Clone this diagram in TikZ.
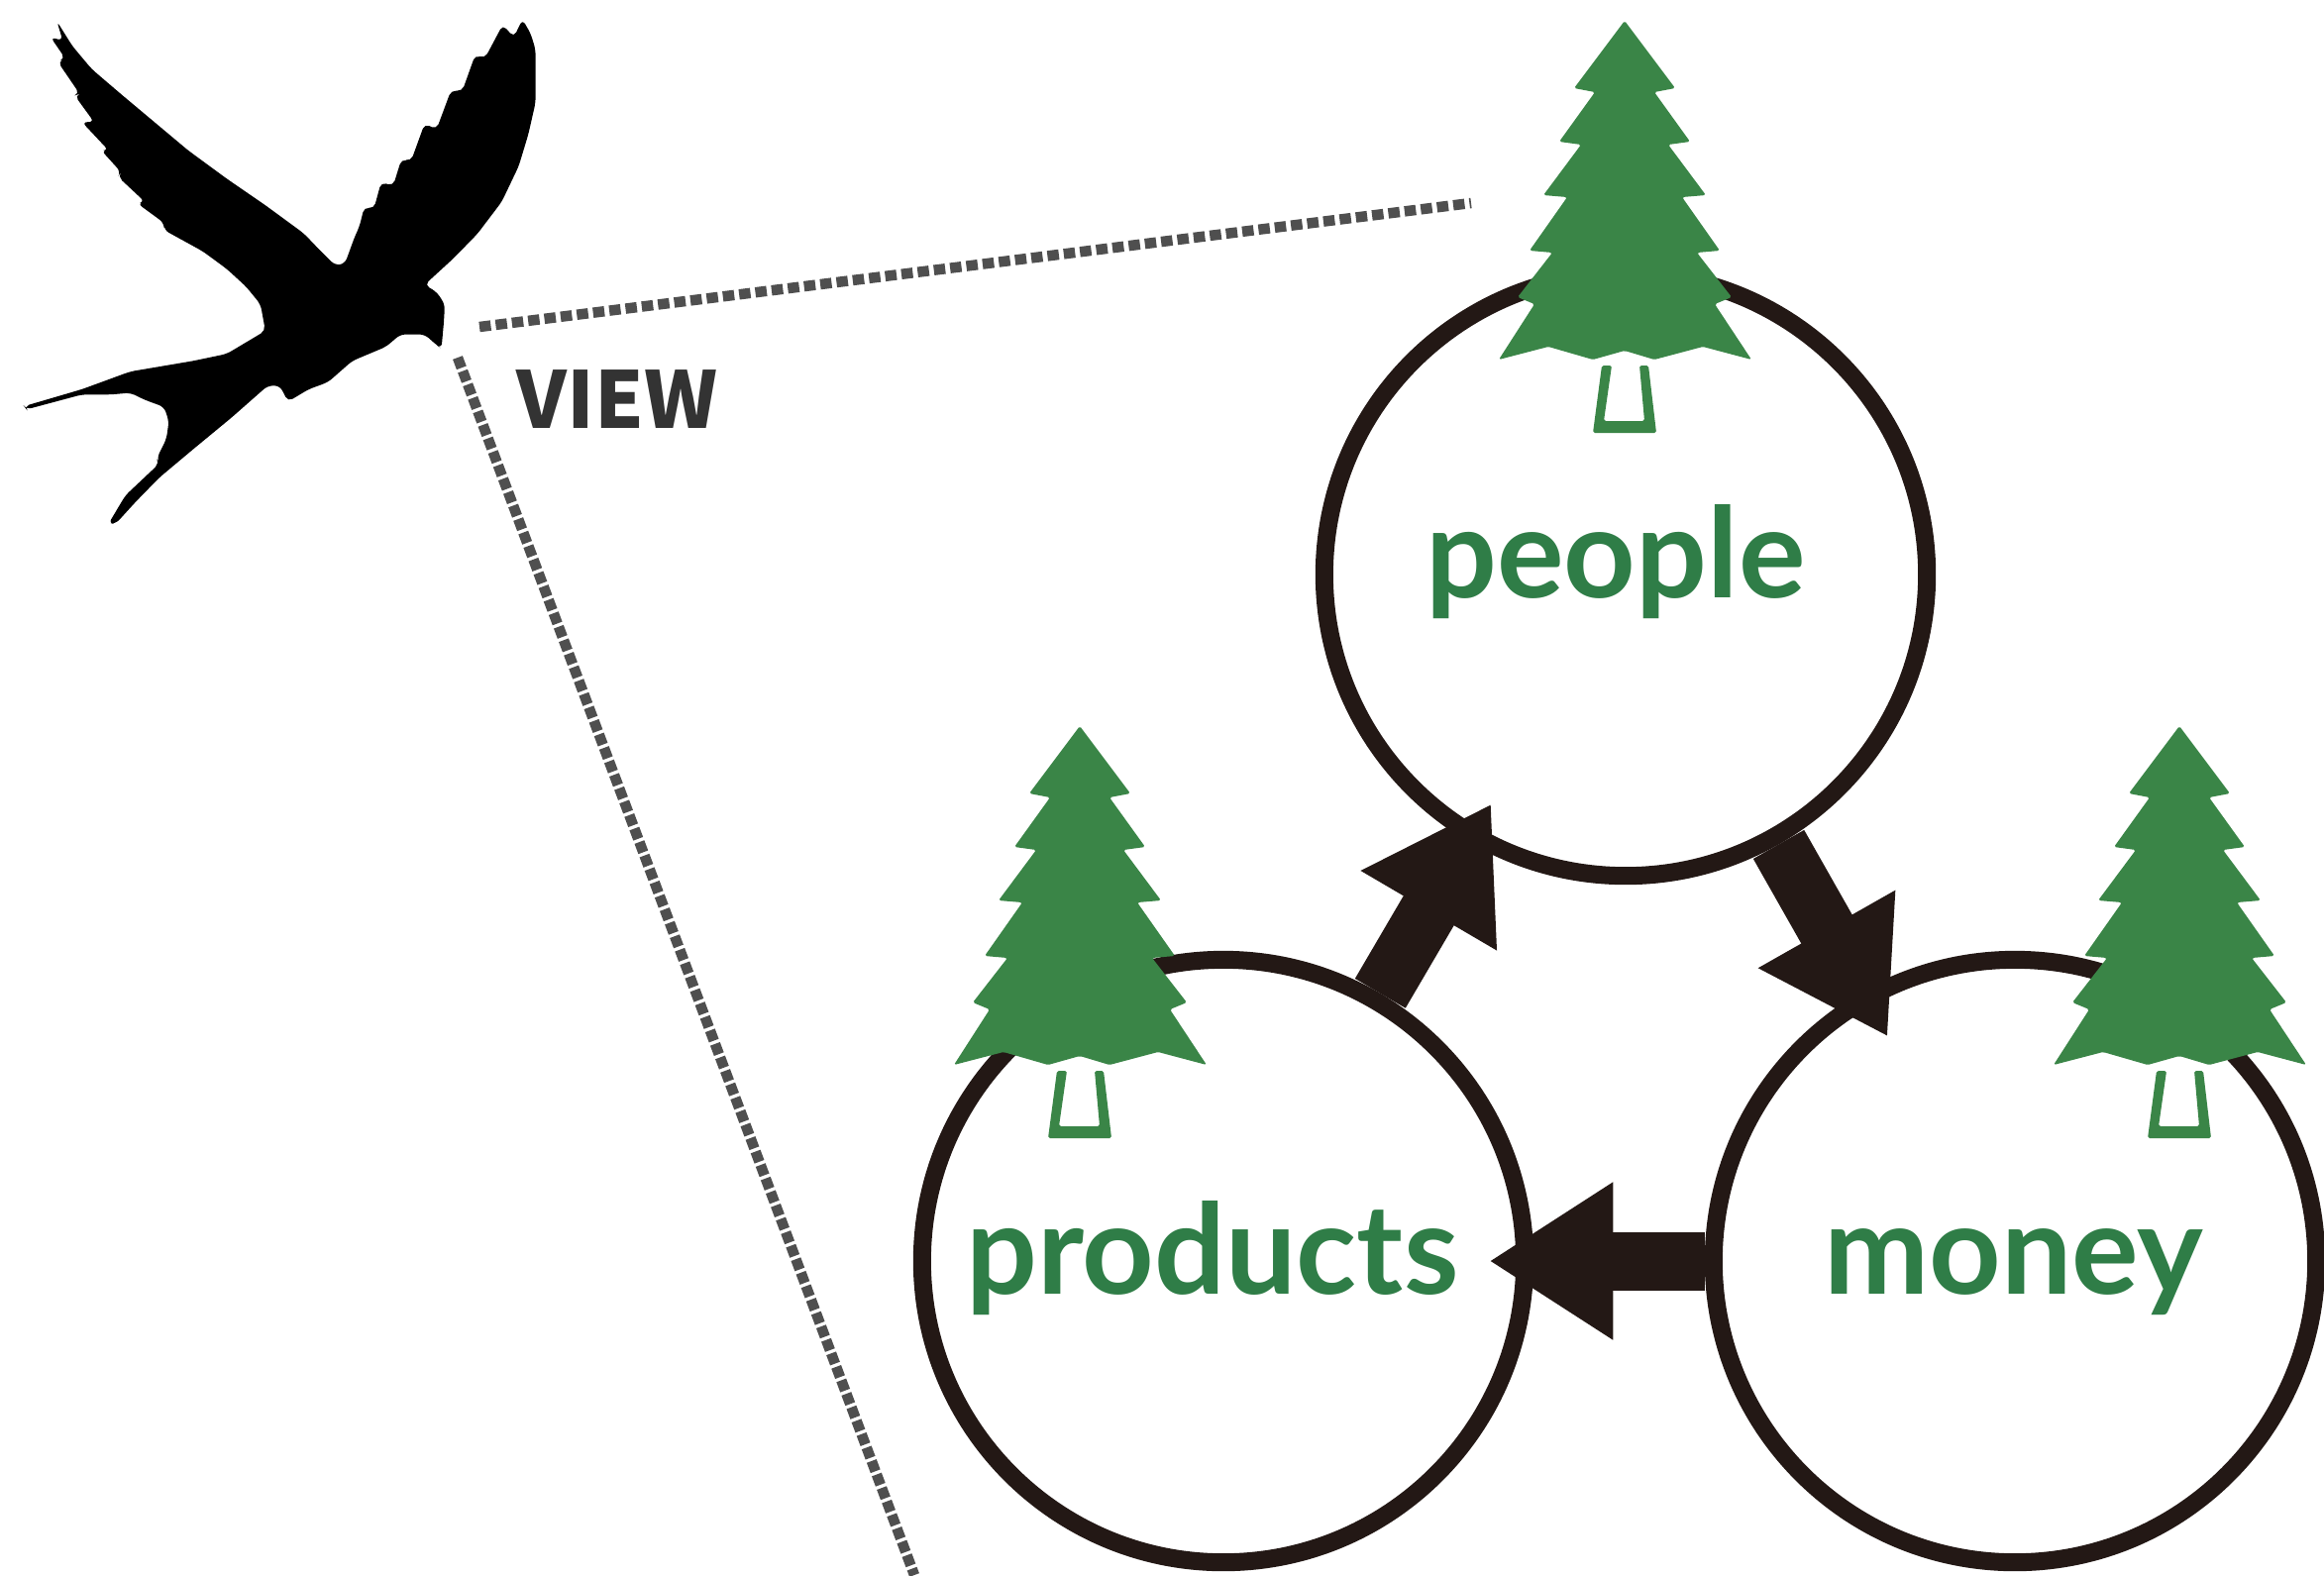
\documentclass[tikz,border=0pt]{standalone}
\usepackage{fontspec}
\setmainfont{Lato}
\newfontfamily\viewfont{Noto Sans CJK JP}
\usetikzlibrary{arrows.meta}
\definecolor{treegreen}{HTML}{3A8547}
\definecolor{textgreen}{HTML}{2F7D47}
\definecolor{ringbrown}{HTML}{231815}
\definecolor{viewgray}{HTML}{4F4F4F}
\tikzset{
	ring/.style={circle, draw=ringbrown, fill=white, line width=0.18cm, minimum size=6.08cm, inner sep=0pt},
	flow/.style={draw=ringbrown, line width=0.59cm, -{Triangle[length=1.25cm, width=1.5cm]}, shorten >=-0.45cm},
	viewline/.style={viewgray, line width=0.105cm, dash pattern=on 0.115cm off 0.05cm},
	word/.style={text=textgreen, font=\bfseries\fontsize{36}{36}\selectfont, anchor=base, inner sep=0pt},
}
\begin{document}
\begin{tikzpicture}[x=0.01cm, y=-0.01cm]
	\useasboundingbox (0,0) rectangle (2346,1590);

	% bird
	\begin{scope}[x=0.00486cm, y=-0.00357cm, rounded corners=1.5pt]
		\fill[black] (118,60) -- (150,130) -- (190,195) -- (250,265) -- (320,345) -- (390,425) -- (470,505) -- (550,580) -- (630,660) -- (665,710) -- (695,750) -- (715,745) -- (735,670) -- (745,640) -- (755,585) -- (775,590) -- (790,515) -- (815,525) -- (832,450) -- (852,455) -- (880,350) -- (905,365) -- (935,255) -- (958,258) -- (985,155) -- (1005,165) -- (1042,70) -- (1065,105) -- (1083,55) -- (1100,95) -- (1110,140) -- (1110,290) -- (1095,380) -- (1075,470) -- (1040,570) -- (990,660) -- (940,730) -- (880,805) -- (905,825) -- (922,860) -- (920,910) -- (915,985) -- (905,975) -- (880,945) -- (830,945) -- (800,980) -- (730,1020) -- (680,1080) -- (640,1100) -- (597,1135) -- (580,1090) -- (555,1090) -- (480,1180) -- (400,1270) -- (330,1350) -- (280,1420) -- (240,1480) -- (225,1480) -- (260,1400) -- (330,1310) -- (325,1295) -- (345,1240) -- (350,1190) -- (340,1150) -- (300,1130) -- (270,1110) -- (230,1115) -- (170,1115) -- (55,1157) -- (50,1148) -- (170,1100) -- (270,1050) -- (400,1020) -- (470,1000) -- (550,935) -- (540,860) -- (510,810) -- (470,760) -- (420,710) -- (340,650) -- (340,630) -- (285,575) -- (300,570) -- (245,500) -- (250,485) -- (210,425) -- (225,425) -- (170,345) -- (195,345) -- (155,270) -- (165,265) -- (120,175) -- (135,165) -- (105,105) -- (130,115) -- cycle;
	\end{scope}

	% view lines
	\coordinate (viewtop) at (484,330);
	\coordinate (viewtopend) at (1485,205);
	\coordinate (viewleft) at (462,361);
	\coordinate (viewleftend) at (923,1590);
	\draw[viewline] (viewtop) -- (viewtopend);
	\draw[viewline, dash pattern=on 0.11cm off 0.035cm] (viewleft) -- (viewleftend);
	\node[anchor=base west, inner sep=0pt, text=black!80, font=\viewfont\bfseries\fontsize{22.5}{22.5}\selectfont] (view) at (521,432) {VIEW};

	% circles
	\node[ring] (people) at (1641,580) {};
	\node[ring] (products) at (1235,1273) {};
	\node[ring] (money) at (2034,1273) {};

	\draw[flow] (products) -- (people);
	\draw[flow, shorten >=-0.53cm] (people) -- (money);
	\draw[flow] (money) -- (products);

	\node[word] (peopleword) at (1631,603) {people};
	\node[word] (productsword) at (1224,1306) {products};
	\node[word] (moneyword) at (2033,1306) {money};

	% trees
	\foreach \tx/\ty in {1640/21, 1090/733, 2200/733}{
		\begin{scope}[shift={(\tx,\ty)}, rounded corners=0.5pt]
			\fill[treegreen] (0,0) -- (51,68) -- (30,72) -- (66,122) -- (44,125) -- (82,176) -- (58,178) -- (96,232) -- (73,234) -- (108,279) -- (91,286) -- (128,342) -- (79,329) -- (30,342) -- (0,333) -- (-32,342) -- (-77,329) -- (-127,342) -- (-91,286) -- (-108,279) -- (-73,234) -- (-96,232) -- (-58,178) -- (-82,176) -- (-44,125) -- (-66,122) -- (-30,72) -- (-51,68) -- cycle;
			\fill[treegreen] (-23,348) -- (-32,416) -- (32,416) -- (24,348) -- (15,348) -- (20,404) -- (-21,404) -- (-13,348) -- cycle;
		\end{scope}
	}
\end{tikzpicture}
\end{document}
